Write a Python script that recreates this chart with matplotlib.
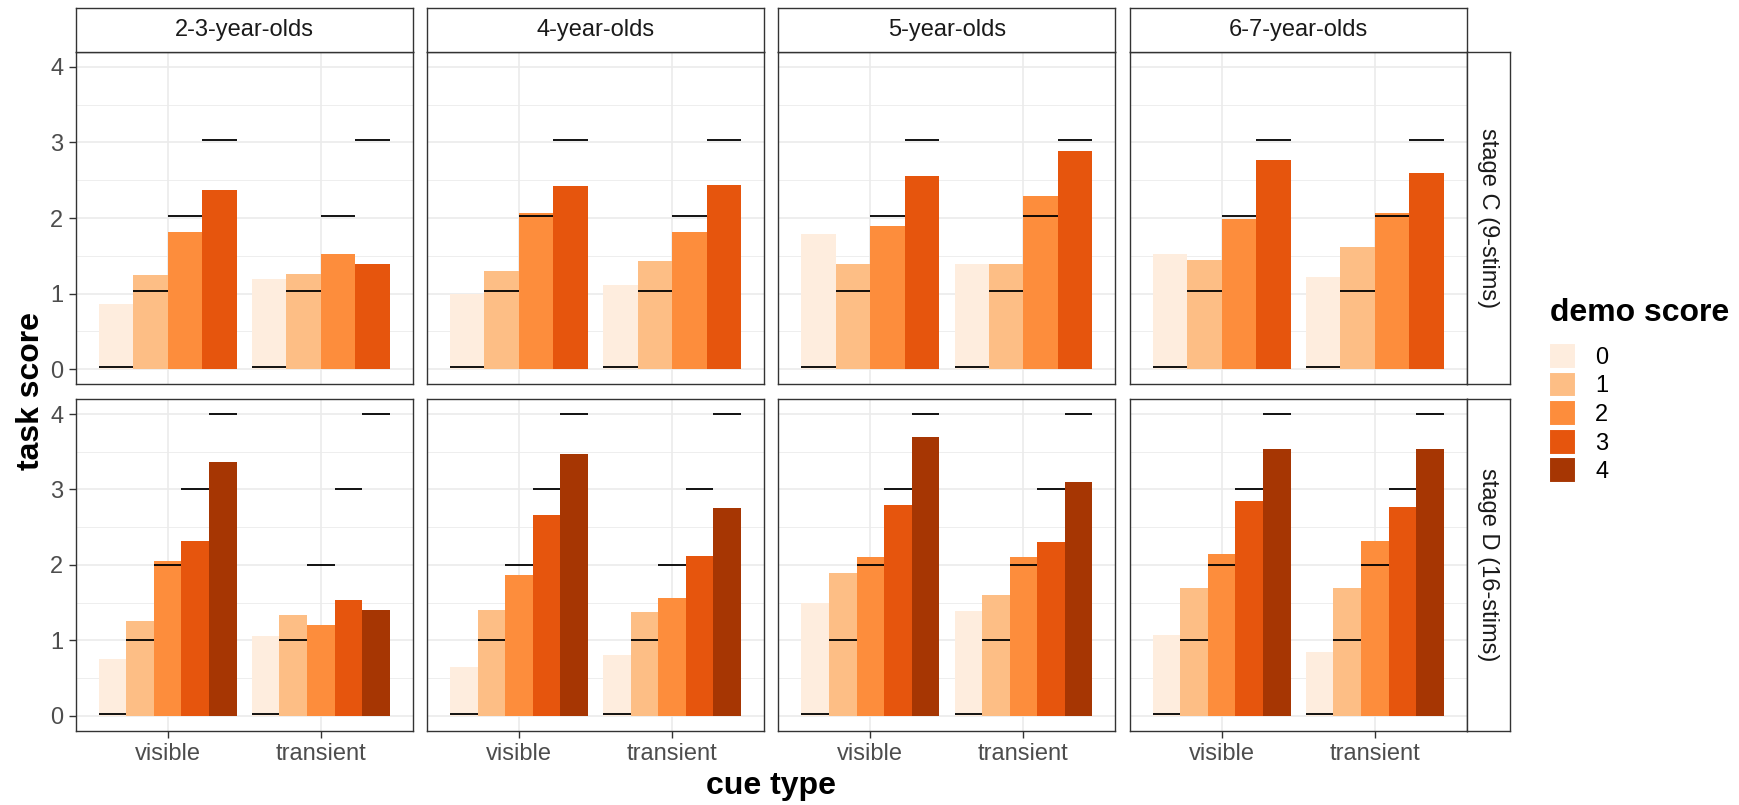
import matplotlib
matplotlib.use("Agg")
import matplotlib.pyplot as plt
from matplotlib.patches import Patch
import numpy as np

plt.rcParams['font.family'] = ['Liberation Sans', 'DejaVu Sans']

# ---- data ----
age_groups = ["2-3-year-olds", "4-year-olds", "5-year-olds", "6-7-year-olds"]
stages = ["stage C (9-stims)", "stage D (16-stims)"]
cue_types = ["visible", "transient"]
demo_scores = ["0", "1", "2", "3", "4"]
palette = ["#FEEDDE", "#FDBE85", "#FD8D3C", "#E6550D", "#A63603"]

# mean task score per [age group][cue type][demo score]
stage_c_scores = [
    [[0.86, 1.24, 1.81, 2.37], [1.19, 1.26, 1.52, 1.39]],
    [[1.00, 1.30, 2.06, 2.42], [1.11, 1.43, 1.81, 2.43]],
    [[1.79, 1.39, 1.89, 2.55], [1.39, 1.39, 2.29, 2.89]],
    [[1.53, 1.45, 1.99, 2.77], [1.22, 1.61, 2.07, 2.60]],
]
stage_d_scores = [
    [[0.75, 1.25, 2.05, 2.31, 3.37], [1.05, 1.33, 1.20, 1.53, 1.40]],
    [[0.64, 1.40, 1.87, 2.66, 3.47], [0.80, 1.37, 1.56, 2.12, 2.75]],
    [[1.49, 1.89, 2.10, 2.80, 3.70], [1.39, 1.60, 2.10, 2.30, 3.10]],
    [[1.07, 1.69, 2.15, 2.85, 3.54], [0.84, 1.69, 2.31, 2.77, 3.54]],
]
# maximum attainable score for each demo score level
stage_c_max = [0.03, 1.03, 2.03, 3.03]
stage_d_max = [0.02, 1.0, 2.0, 3.0, 4.0]

stage_scores = [stage_c_scores, stage_d_scores]
stage_max = [stage_c_max, stage_d_max]

# ---- layout (pixels) ----
W, H = 1739, 805
fig = plt.figure(figsize=(W / 100, H / 100), dpi=100)

panel_left = [75.7, 427.0, 778.4, 1129.7]
panel_w = 337.0
row_top = [51.7, 399.0]
row_bot = [384.3, 730.7]
strip_top = 8.3
strip_right = (1466.7, 1510.0)

grid_major = "#EBEBEB"
border_col = "#333333"
tick_col = "#4D4D4D"


def fig_rect(x0, y0, x1, y1):
    return [x0 / W, 1 - y1 / H, (x1 - x0) / W, (y1 - y0) / H]


dodge = 0.9
for r in range(2):
    scores = stage_scores[r]
    maxes = stage_max[r]
    n = len(maxes)
    bw = dodge / n
    for c in range(4):
        ax = fig.add_axes(fig_rect(panel_left[c], row_top[r],
                                   panel_left[c] + panel_w, row_bot[r]))
        ax.set_xlim(0.4, 2.6)
        ax.set_ylim(-0.2, 4.2)
        ax.set_facecolor("white")
        # grid
        for yv in np.arange(0.5, 4.0, 1.0):
            ax.axhline(yv, color=grid_major, lw=0.6, zorder=0)
        for yv in range(5):
            ax.axhline(yv, color=grid_major, lw=1.2, zorder=0)
        for xv in (1, 2):
            ax.axvline(xv, color=grid_major, lw=1.2, zorder=0)
        for ci in range(len(cue_types)):
            xc = ci + 1
            for k in range(n):
                xk = xc - dodge / 2 + bw * (k + 0.5)
                ax.bar(xk, scores[c][ci][k], width=bw, color=palette[k],
                       linewidth=0, zorder=2)
                ax.hlines(maxes[k], xk - bw / 2, xk + bw / 2,
                          color="black", lw=1.3, zorder=3)
        for sp in ax.spines.values():
            sp.set_color(border_col)
            sp.set_linewidth(1.0)
        ax.set_yticks(range(5))
        ax.set_xticks([1, 2])
        ax.tick_params(length=5, width=1.0, color=border_col,
                       labelcolor=tick_col, labelsize=17, pad=4)
        if c == 0:
            ax.set_yticklabels([str(v) for v in range(5)])
        else:
            ax.tick_params(axis="y", left=False, labelleft=False)
        if r == 1:
            ax.set_xticklabels(cue_types)
        else:
            ax.tick_params(axis="x", bottom=False, labelbottom=False)

        # column strip
        if r == 0:
            sax = fig.add_axes(fig_rect(panel_left[c], strip_top,
                                        panel_left[c] + panel_w, row_top[0]))
            sax.set_xticks([]); sax.set_yticks([])
            for sp in sax.spines.values():
                sp.set_color(border_col); sp.set_linewidth(1.0)
            sax.text(0.5, 0.5, age_groups[c], ha="center", va="center",
                     fontsize=17, color="#1A1A1A", transform=sax.transAxes)
    # row strip
    rax = fig.add_axes(fig_rect(strip_right[0], row_top[r],
                                strip_right[1], row_bot[r]))
    rax.set_xticks([]); rax.set_yticks([])
    for sp in rax.spines.values():
        sp.set_color(border_col); sp.set_linewidth(1.0)
    rax.text(0.5, 0.5, stages[r], ha="center", va="center", rotation=-90,
             fontsize=17, color="#1A1A1A", transform=rax.transAxes)

# axis titles
fig.text((panel_left[0] + panel_left[3] + panel_w) / 2 / W, 1 - 786 / H,
         "cue type", ha="center", va="center", fontsize=23, fontweight="bold")
fig.text(31 / W, 1 - (row_top[0] + row_bot[1]) / 2 / H, "task score",
         ha="center", va="center", rotation=90, fontsize=23, fontweight="bold")

# legend
fig.text(1550 / W, 1 - 313 / H, "demo score", ha="left", va="center",
         fontsize=23, fontweight="bold")
handles = [Patch(facecolor=col, edgecolor="white", linewidth=1.5) for col in palette]
leg = fig.legend(handles, demo_scores,
                 loc="upper left", bbox_to_anchor=(1549 / W, 1 - 343 / H),
                 frameon=False, fontsize=17, borderpad=0,
                 handlelength=1.15, handleheight=1.3, labelspacing=0.12,
                 handletextpad=0.8, borderaxespad=0)

fig.savefig("out.png", dpi=100, facecolor="white")
